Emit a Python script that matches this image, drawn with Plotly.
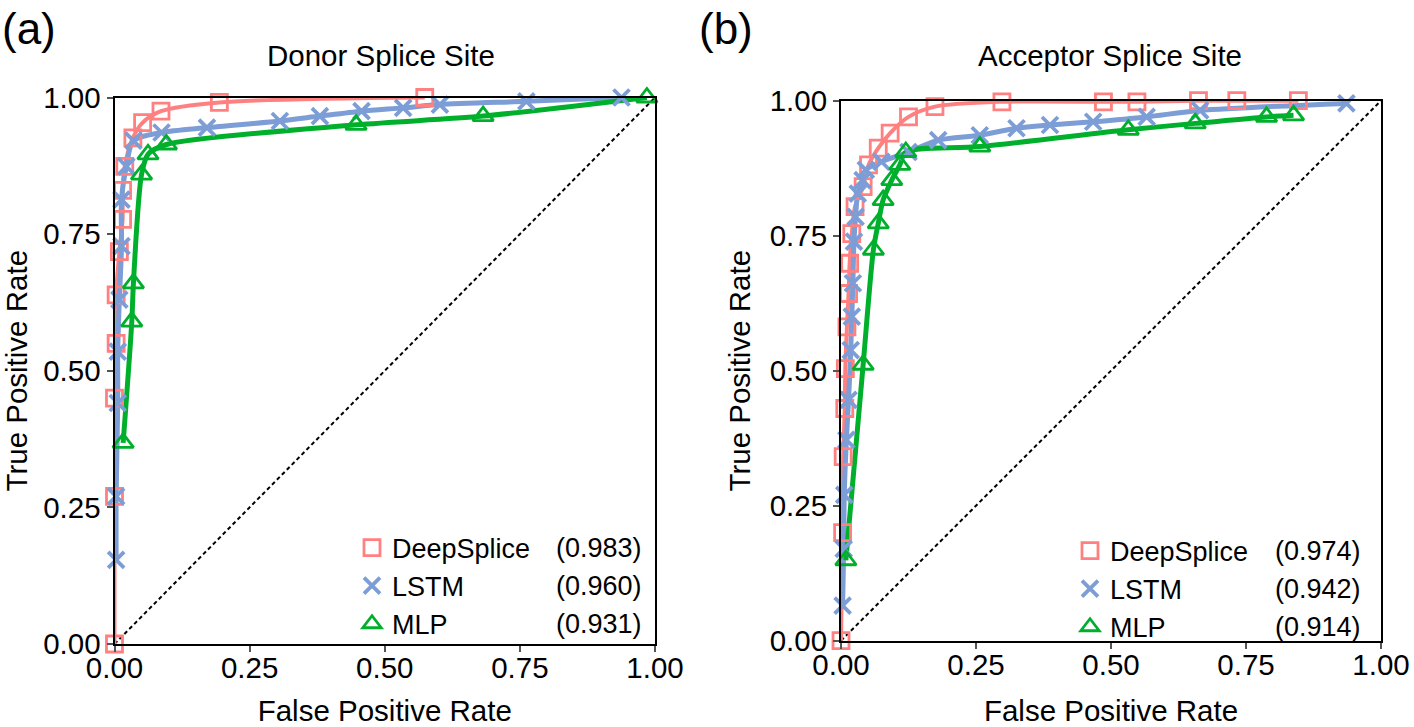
import plotly.graph_objects as go

# ---------------- data ----------------
tick_vals = [0, 0.25, 0.5, 0.75, 1.0]
tick_text = ["0.00", "0.25", "0.50", "0.75", "1.00"]

model_names = ["DeepSplice", "LSTM", "MLP"]
donor_auc = ["(0.983)", "(0.960)", "(0.931)"]
acceptor_auc = ["(0.974)", "(0.942)", "(0.914)"]

# Donor splice site ROC points
ds_donor_fpr = [0, 0, 0, 0.003, 0.003, 0.009, 0.015, 0.015, 0.019, 0.034, 0.052, 0.086, 0.194, 0.574]
ds_donor_tpr = [0, 0.27, 0.45, 0.55, 0.639, 0.718, 0.777, 0.83, 0.874, 0.926, 0.954, 0.975, 0.991, 1.0]
lstm_donor_fpr = [0.003, 0.003, 0.006, 0.006, 0.009, 0.013, 0.013, 0.022, 0.035, 0.087, 0.171, 0.306, 0.38, 0.457, 0.534, 0.602, 0.762, 0.938]
lstm_donor_tpr = [0.154, 0.27, 0.441, 0.535, 0.63, 0.728, 0.813, 0.874, 0.921, 0.936, 0.945, 0.957, 0.966, 0.975, 0.981, 0.987, 0.993, 1.0]
mlp_donor_fpr = [0.016, 0.032, 0.035, 0.05, 0.062, 0.096, 0.447, 0.682, 0.985]
mlp_donor_tpr = [0.368, 0.59, 0.66, 0.859, 0.896, 0.914, 0.95, 0.966, 1.0]

# Acceptor splice site ROC points
ds_acc_fpr = [0, 0.003, 0.004, 0.007, 0.008, 0.011, 0.014, 0.016, 0.020, 0.026, 0.041, 0.051, 0.069, 0.091, 0.125, 0.174, 0.298, 0.486, 0.548, 0.662, 0.733, 0.847]
ds_acc_tpr = [0, 0.2, 0.341, 0.43, 0.504, 0.581, 0.643, 0.699, 0.754, 0.804, 0.841, 0.881, 0.912, 0.94, 0.97, 0.989, 0.998, 0.998, 0.998, 1.0, 1.0, 1.0]
lstm_acc_fpr = [0.003, 0.005, 0.006, 0.01, 0.014, 0.018, 0.02, 0.022, 0.024, 0.027, 0.031, 0.04, 0.046, 0.075, 0.125, 0.18, 0.257, 0.325, 0.387, 0.467, 0.566, 0.665, 0.936]
lstm_acc_tpr = [0.065, 0.17, 0.27, 0.372, 0.446, 0.538, 0.6, 0.662, 0.739, 0.785, 0.828, 0.853, 0.872, 0.887, 0.905, 0.927, 0.936, 0.949, 0.955, 0.961, 0.97, 0.982, 0.995]
mlp_acc_fpr = [0.009, 0.041, 0.06, 0.069, 0.078, 0.094, 0.109, 0.12, 0.257, 0.532, 0.656, 0.788, 0.838]
mlp_acc_tpr = [0.149, 0.511, 0.724, 0.773, 0.816, 0.853, 0.881, 0.905, 0.915, 0.946, 0.958, 0.97, 0.973]

diag = [0, 1]

# ---------------- style ----------------
colors = ["#FF8080", "#7C9DD6", "#00B02C"]
symbols = ["square-open", "x-thin-open", "triangle-up-open"]
msizes = [16, 16, 18]
mlw = [2.8, 3.8, 2.8]
lws = [4, 5, 5]
FONT = "Liberation Sans, Arial, Helvetica, sans-serif"
TXT = 29.5
LEG = 27

W, H = 1414, 727
dom = {
    "L": dict(x=[114.5 / W, 655 / W], y=[(H - 644) / H, (H - 97.5) / H]),
    "R": dict(x=[841 / W, 1381 / W], y=[(H - 640.7) / H, (H - 100.7) / H]),
}

fig = go.Figure()

panels = [
    ("x", "y", "legend", [(ds_donor_fpr, ds_donor_tpr), (lstm_donor_fpr, lstm_donor_tpr), (mlp_donor_fpr, mlp_donor_tpr)]),
    ("x2", "y2", "legend2", [(ds_acc_fpr, ds_acc_tpr), (lstm_acc_fpr, lstm_acc_tpr), (mlp_acc_fpr, mlp_acc_tpr)]),
]

for xa, ya, lg, series in panels:
    fig.add_trace(go.Scatter(x=diag, y=diag, mode="lines", xaxis=xa, yaxis=ya,
                             line=dict(color="black", width=2, dash="4px,3px"),
                             showlegend=False, hoverinfo="skip"))
    for i, (fx, ty) in enumerate(series):
        fig.add_trace(go.Scatter(x=fx, y=ty, mode="lines", xaxis=xa, yaxis=ya,
                                 line=dict(color=colors[i], width=lws[i], shape="spline", smoothing=0.8),
                                 showlegend=False, legendgroup=model_names[i] + xa))
    for i, (fx, ty) in enumerate(series):
        fig.add_trace(go.Scatter(x=fx, y=ty, mode="markers", xaxis=xa, yaxis=ya, name=model_names[i],
                                 marker=dict(symbol=symbols[i], size=msizes[i], color=colors[i],
                                             line=dict(color=colors[i], width=mlw[i])),
                                 cliponaxis=False, legend=lg, legendgroup=model_names[i] + xa))

axis_common = dict(range=[0, 1], showline=True, linecolor="black", linewidth=2, mirror=True,
                   ticks="outside", ticklen=6, tickwidth=2, tickcolor="#555555",
                   tickvals=tick_vals, ticktext=tick_text, showgrid=False, zeroline=False,
                   automargin=False,
                   tickfont=dict(size=TXT, color="black", family=FONT))

fig.update_layout(
    width=W, height=H, margin=dict(l=0, r=0, t=0, b=0, autoexpand=False),
    paper_bgcolor="white", plot_bgcolor="white",
    font=dict(family=FONT, color="black"),
    xaxis=dict(domain=dom["L"]["x"], anchor="y", ticklabelstandoff=-9,
               title=dict(text="False Positive Rate", font=dict(size=TXT), standoff=20), **axis_common),
    yaxis=dict(domain=dom["L"]["y"], anchor="x",
               title=dict(text="True Positive Rate", font=dict(size=TXT), standoff=10), **axis_common),
    xaxis2=dict(domain=dom["R"]["x"], anchor="y2", ticklabelstandoff=-9,
                title=dict(text="False Positive Rate", font=dict(size=TXT), standoff=20), **axis_common),
    yaxis2=dict(domain=dom["R"]["y"], anchor="x2",
                title=dict(text="True Positive Rate", font=dict(size=TXT), standoff=10), **axis_common),
    legend=dict(x=352 / W, xanchor="left", y=(H - 586) / H, yanchor="middle",
                font=dict(size=LEG, family=FONT), bgcolor="rgba(0,0,0,0)", tracegroupgap=0),
    legend2=dict(x=1070 / W, xanchor="left", y=(H - 589) / H, yanchor="middle",
                 font=dict(size=LEG, family=FONT), bgcolor="rgba(0,0,0,0)", tracegroupgap=0),
)

ann = []
# panel labels and titles
ann.append(dict(text="(a)", x=0 / W, y=1 - 2 / H, xref="paper", yref="paper", xanchor="left", yanchor="top",
                showarrow=False, font=dict(size=44)))
ann.append(dict(text="(b)", x=697 / W, y=1 - 2 / H, xref="paper", yref="paper", xanchor="left", yanchor="top",
                showarrow=False, font=dict(size=44)))
ann.append(dict(text="Donor Splice Site", x=381 / W, y=(H - 55) / H, xref="paper", yref="paper",
                xanchor="center", yanchor="middle", showarrow=False, font=dict(size=TXT)))
ann.append(dict(text="Acceptor Splice Site", x=1110 / W, y=(H - 55) / H, xref="paper", yref="paper",
                xanchor="center", yanchor="middle", showarrow=False, font=dict(size=TXT)))
# AUC values aligned right next to legend entries
row_gap = LEG * 1.3 + 3
for i in range(3):
    ann.append(dict(text=donor_auc[i], x=644 / W, y=(H - (586 + (i - 1) * row_gap)) / H, xref="paper", yref="paper",
                    xanchor="right", yanchor="middle", showarrow=False, font=dict(size=LEG)))
    ann.append(dict(text=acceptor_auc[i], x=1363 / W, y=(H - (589 + (i - 1) * row_gap)) / H, xref="paper", yref="paper",
                    xanchor="right", yanchor="middle", showarrow=False, font=dict(size=LEG)))
fig.update_layout(annotations=ann)

fig.write_html("out.html", config={"displayModeBar": False},
               post_script="document.body.style.margin='0';")
